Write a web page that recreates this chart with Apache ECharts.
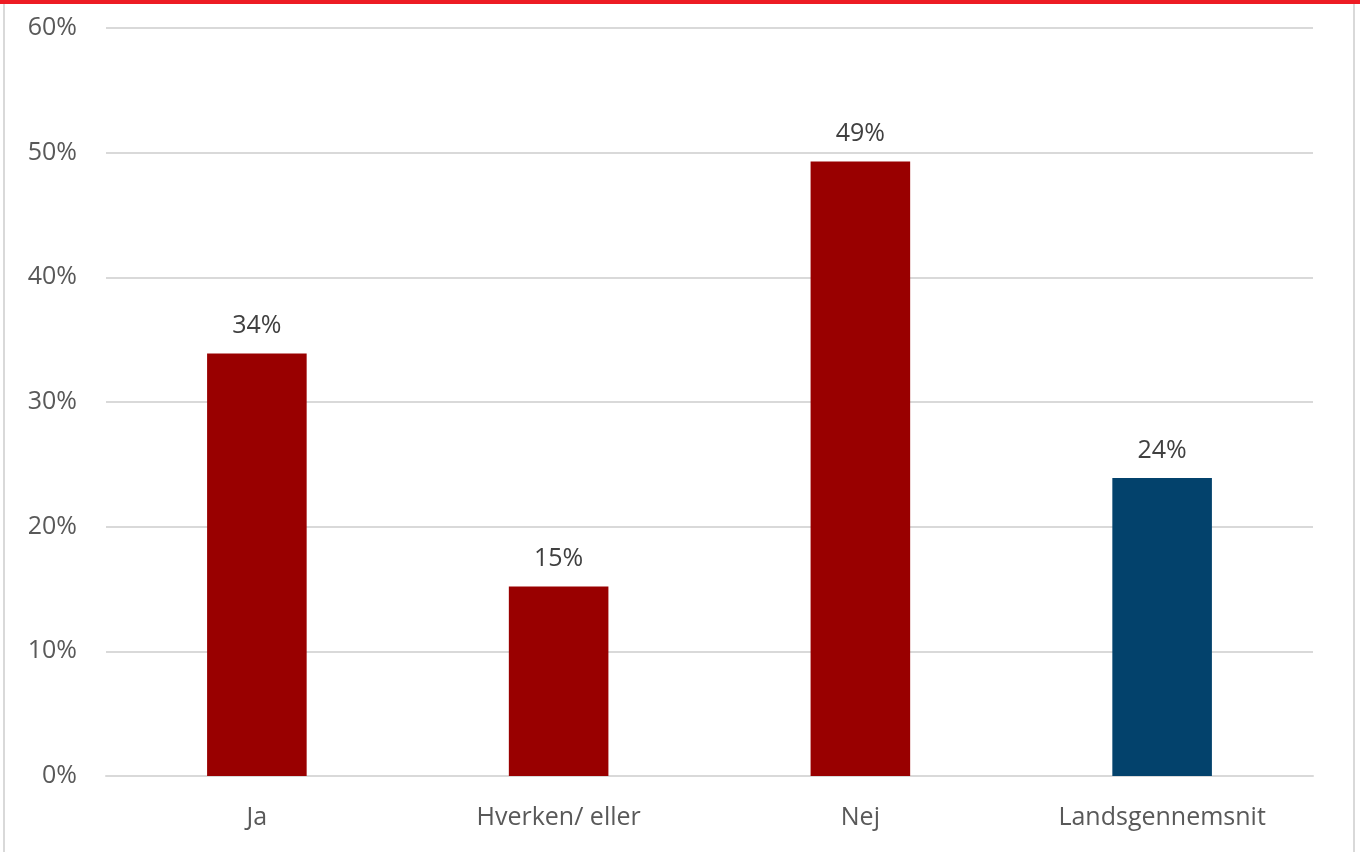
<!DOCTYPE html>
<html><head><meta charset="utf-8">
<script src="https://cdn.jsdelivr.net/npm/echarts@6/dist/echarts.min.js"></script>
<style>html,body{margin:0;padding:0;background:#fff}#c{width:1360px;height:852px}</style>
</head><body><div id="c"></div>
<script>
const categories = ['Ja', 'Hverken/ eller', 'Nej', 'Landsgennemsnit'];
const values = [33.9, 15.2, 49.3, 23.9];
const labels = ['34%', '15%', '49%', '24%'];
const barColors = ['#990000', '#990000', '#990000', '#03426C'];
const yTicks = [0, 10, 20, 30, 40, 50, 60];

const chart = echarts.init(document.getElementById('c'));
const font = '"Open Sans", sans-serif';
chart.setOption({
  animation: false,
  grid: { left: 106, right: 47, top: 28, bottom: 76, containLabel: false },
  graphic: [
    { type: 'rect', shape: { x: 0, y: 0, width: 1360, height: 4 }, style: { fill: '#ED1C24' } },
    { type: 'rect', shape: { x: 3, y: 4, width: 2, height: 848 }, style: { fill: '#d9d9d9' } },
    { type: 'rect', shape: { x: 1353, y: 4, width: 2, height: 848 }, style: { fill: '#d9d9d9' } }
  ],
  xAxis: {
    type: 'category', data: categories,
    axisLine: { show: true, lineStyle: { color: '#d9d9d9', width: 2 } },
    axisTick: { show: false },
    axisLabel: { color: '#595959', fontSize: 25, fontFamily: font, margin: 29 }
  },
  yAxis: {
    type: 'value', min: yTicks[0], max: yTicks[yTicks.length - 1], interval: 10,
    axisLine: { show: false }, axisTick: { show: false },
    splitLine: { lineStyle: { color: '#d9d9d9', width: 2 } },
    axisLabel: { color: '#595959', fontSize: 25, fontFamily: font, margin: 29, formatter: v => v + '%' }
  },
  series: [{
    type: 'bar', barWidth: '33%',
    data: values.map((v, i) => ({ value: v, itemStyle: { color: barColors[i] } })),
    label: { show: true, position: 'top', distance: 15, color: '#404040', fontSize: 25, fontFamily: font,
      formatter: p => labels[p.dataIndex] }
  }]
});
</script></body></html>
